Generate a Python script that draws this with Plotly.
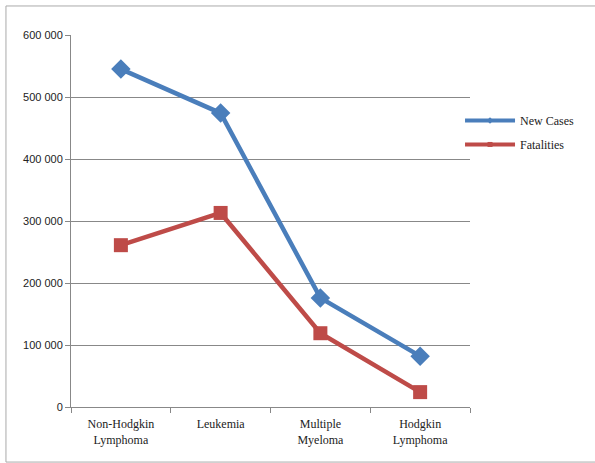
import plotly.graph_objects as go

# Blood cancer statistics
categories = ["Non-Hodgkin<br>Lymphoma", "Leukemia", "Multiple<br>Myeloma", "Hodgkin<br>Lymphoma"]
new_cases = [545000, 474000, 176000, 82000]
fatalities = [261000, 313000, 119000, 24000]

y_tick_values = [0, 100000, 200000, 300000, 400000, 500000, 600000]
y_tick_labels = ["0", "100 000", "200 000", "300 000", "400 000", "500 000", "600 000"]

blue = "#4a7ebb"
red = "#be4b48"
serif = "Times New Roman, Liberation Serif, DejaVu Serif, serif"

fig = go.Figure()
fig.add_trace(go.Scatter(
    x=categories, y=new_cases, name="New Cases", mode="lines+markers",
    line=dict(color=blue, width=4.5),
    marker=dict(symbol="diamond", size=15, color=blue),
    showlegend=False,
))
fig.add_trace(go.Scatter(
    x=categories, y=fatalities, name="Fatalities", mode="lines+markers",
    line=dict(color=red, width=4.5),
    marker=dict(symbol="square", size=14, color=red),
    showlegend=False,
))

# Legend entries with small markers on the legend lines
fig.add_trace(go.Scatter(
    x=[None], y=[None], name="New Cases", mode="lines+markers", legendgroup="a",
    line=dict(color=blue, width=4), marker=dict(symbol="diamond", size=5, color=blue),
))
fig.add_trace(go.Scatter(
    x=[None], y=[None], name="Fatalities", mode="lines+markers", legendgroup="b",
    line=dict(color=red, width=4), marker=dict(symbol="square", size=5, color=red),
))

fig.update_layout(
    width=595, height=463,
    margin=dict(l=71, r=125, t=35, b=56),
    paper_bgcolor="white", plot_bgcolor="white",
    showlegend=True,
    legend=dict(
        x=0.975, y=0.738, xanchor="left", yanchor="middle",
        font=dict(family=serif, size=12, color="#222"),
        bgcolor="rgba(0,0,0,0)", itemwidth=50,
        traceorder="grouped", tracegroupgap=5,
        itemsizing="trace",
    ),
    xaxis=dict(
        type="category", range=[-0.5, 3.5],
        showline=True, linecolor="#888", linewidth=1,
        ticks="outside", tickson="boundaries", ticklen=5, tickcolor="#888",
        showgrid=False, ticklabelstandoff=6,
        tickfont=dict(family=serif, size=12, color="#222"),
    ),
    yaxis=dict(
        range=[0, 600000],
        tickvals=y_tick_values, ticktext=y_tick_labels,
        showline=True, linecolor="#888", linewidth=1,
        ticks="outside", ticklen=5, tickcolor="#888",
        showgrid=True, gridcolor="#888", gridwidth=1,
        zeroline=False,
        tickfont=dict(family="Liberation Sans Narrow, Liberation Sans, sans-serif", size=11, color="#222"),
    ),
    shapes=[dict(
        type="rect", xref="paper", yref="paper",
        x0=-0.163, x1=1.4, y0=-0.148, y1=1.078,
        line=dict(color="#aaa", width=1),
    )],
)

fig.write_html("out.html")
